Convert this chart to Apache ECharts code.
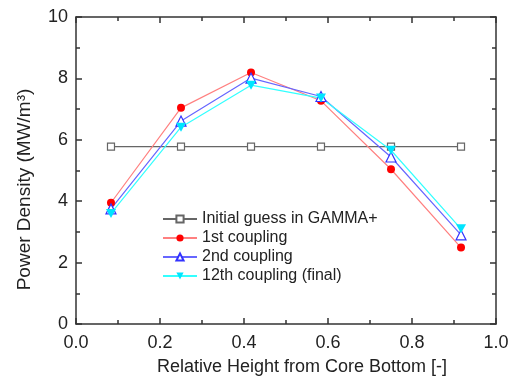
<!DOCTYPE html>
<html>
<head>
<meta charset="utf-8">
<script src="https://cdn.jsdelivr.net/npm/echarts@6/dist/echarts.min.js"></script>
<style>
  html, body { margin: 0; padding: 0; background: #fff; }
  #main { width: 514px; height: 381px; }
</style>
</head>
<body>
<div id="main"></div>
<script>
// relative height positions (cell centers)
var heights = [0.0833, 0.25, 0.4167, 0.5833, 0.75, 0.9167];
var initialGuess = [5.78, 5.78, 5.78, 5.78, 5.78, 5.78];
var coupling1 = [3.95, 7.04, 8.19, 7.27, 5.04, 2.49];
var coupling2 = [3.75, 6.61, 8.01, 7.41, 5.44, 2.9];
var coupling12 = [3.6, 6.41, 7.78, 7.36, 5.66, 3.1];
var seriesNames = ['Initial guess in GAMMA+', '1st coupling', '2nd coupling', '12th coupling (final)'];

function pairs(ys) {
    return heights.map(function (x, i) { return [x, ys[i]]; });
}

var font = 'Liberation Sans, Arial, sans-serif';
var axisColor = '#333';

var myChart = echarts.init(document.getElementById('main'));

function boxAxis(pos, isX) {
    var a = {
        type: 'value',
        position: pos,
        min: 0,
        max: isX ? 1 : 10,
        interval: isX ? 0.2 : 2,
        axisLine: { show: true, onZero: false, lineStyle: { color: axisColor, width: 1.5 } },
        axisTick: { show: true, inside: true, length: 6, lineStyle: { color: axisColor, width: 1.5 } },
        minorTick: { show: true, splitNumber: 2, length: 4, lineStyle: { color: axisColor, width: 1.5 } },
        splitLine: { show: false },
        axisLabel: { show: false }
    };
    return a;
}

var xBottom = boxAxis('bottom', true);
xBottom.axisLabel = { show: true, fontSize: 18, color: '#222', fontFamily: font, margin: 10,
    formatter: function (v) { return v.toFixed(1); } };
xBottom.name = 'Relative Height from Core Bottom [-]';
xBottom.nameLocation = 'middle';
xBottom.nameGap = 34;
xBottom.nameTextStyle = { fontSize: 18, color: '#222', fontFamily: font, padding: [0, 0, 0, 32] };
var xTop = boxAxis('top', true);

var yLeft = boxAxis('left', false);
yLeft.axisLabel = { show: true, fontSize: 18, color: '#222', fontFamily: font, margin: 8 };
yLeft.name = 'Power Density (MW/m\u00b3)';
yLeft.nameLocation = 'middle';
yLeft.nameGap = 42;
yLeft.nameTextStyle = { fontSize: 19, color: '#222', fontFamily: font, padding: [0, 38, 0, 0] };
var yRight = boxAxis('right', false);

var option = {
    animation: false,
    backgroundColor: '#fff',
    grid: { left: 76, right: 18, top: 17, bottom: 55 },
    xAxis: [xBottom, xTop],
    yAxis: [yLeft, yRight],
    legend: {
        orient: 'vertical',
        left: 157,
        top: 206,
        itemWidth: 34,
        itemHeight: 9,
        itemGap: 3,
        textStyle: { fontSize: 16, lineHeight: 16, color: '#222', fontFamily: font },
        data: seriesNames
    },
    series: [
        {
            name: seriesNames[0],
            type: 'line',
            data: pairs(initialGuess),
            symbol: 'rect',
            symbolSize: 7,
            lineStyle: { color: '#666', width: 1.2 },
            itemStyle: { color: '#fff', borderColor: '#666', borderWidth: 1.2 }
        },
        {
            name: seriesNames[1],
            type: 'line',
            data: pairs(coupling1),
            symbol: 'circle',
            symbolSize: 8,
            lineStyle: { color: '#ff8080', width: 1.2 },
            itemStyle: { color: '#ff0000', borderColor: '#ff0000', borderWidth: 0 }
        },
        {
            name: seriesNames[2],
            type: 'line',
            data: pairs(coupling2),
            symbol: 'triangle',
            symbolSize: 10,
            lineStyle: { color: '#6666ff', width: 1.2 },
            itemStyle: { color: '#fff', borderColor: '#3333ff', borderWidth: 1.2 }
        },
        {
            name: seriesNames[3],
            type: 'line',
            data: pairs(coupling12),
            symbol: 'path://M0,0 L10,0 L5,9 Z',
            symbolSize: [10, 9],
            lineStyle: { color: '#33ffff', width: 1.2 },
            itemStyle: { color: '#00e5ff', borderColor: '#00e5ff', borderWidth: 0 }
        }
    ]
};

myChart.setOption(option);
</script>
</body>
</html>
